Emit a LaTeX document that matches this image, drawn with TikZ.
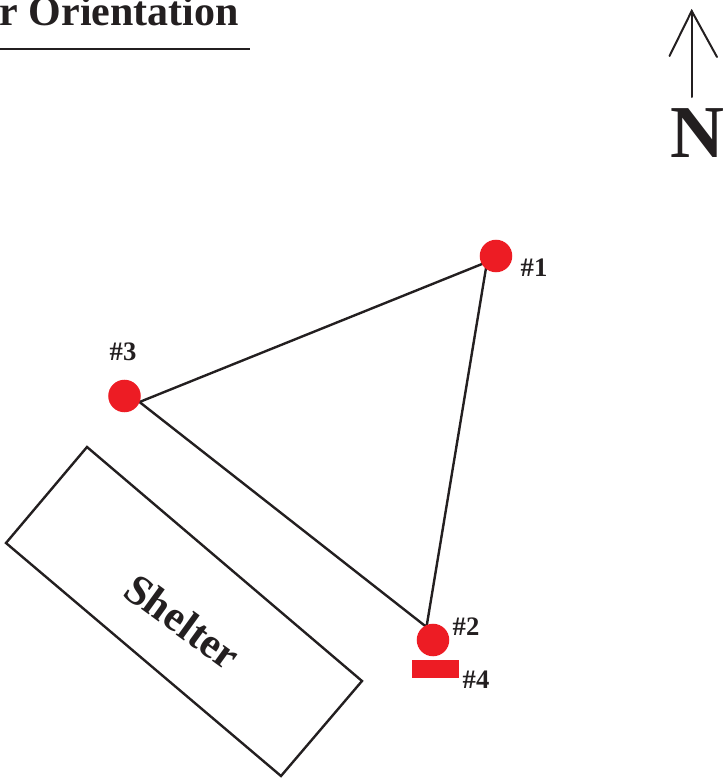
\documentclass[tikz,border=0pt]{standalone}
\usepackage{fontspec}
\setmainfont{Liberation Serif}
\definecolor{dotred}{HTML}{ED1C24}
\definecolor{ink}{HTML}{231F20}
\tikzset{
  dot/.style={circle,fill=dotred,minimum size=24.4pt,inner sep=0pt,draw=none},
  lab/.style={font=\bfseries\fontsize{20}{22}\selectfont,text=ink,inner sep=0pt},
  edge/.style={draw=ink,line width=1.8pt},
  thinedge/.style={draw=ink,line width=1.5pt,line cap=round,line join=miter}
}
\begin{document}
\begin{tikzpicture}[x=0.75pt,y=-0.75pt]
\useasboundingbox (0,0) rectangle (726,782);
\clip (0,0) rectangle (726,782);
\node[anchor=base east,font=\bfseries\fontsize{31.5}{33}\selectfont,text=ink,inner sep=0pt] (title) at (239,25) {r Orientation};
\coordinate (tl) at (0,49); \coordinate (tr) at (250,49);
\draw[edge] (tl) -- (tr);
% north
\coordinate (na) at (691.7,97); \coordinate (nb) at (691.7,11);
\coordinate (nl) at (669.5,56); \coordinate (nr) at (717,57);
\draw[thinedge] (na) -- (nb);
\draw[thinedge] (nl) -- (nb) -- (nr);
\node[font=\bfseries\fontsize{56}{56}\selectfont,text=ink,inner sep=0pt,anchor=base] (north) at (697.5,157.5) {N};
% triangle
\coordinate (a1) at (487,262);
\coordinate (a2) at (426.5,627);
\coordinate (a3) at (139.5,402);
\draw[edge,line join=miter] (a1) -- (a2) -- (a3) -- cycle;
\node[dot] (p1) at (496,256) {};
\node[dot] (p2) at (433,640) {};
\node[dot] (p3) at (124.5,396) {};
\node[lab] (l1) at (534,268) {\#1};
\node[lab] (l2) at (466,627) {\#2};
\node[lab] (l3) at (123,352) {\#3};
\node[lab] (l4) at (476,680) {\#4};
\node[fill=dotred,minimum width=35.25pt,minimum height=13.5pt,inner sep=0pt] (r4) at (435.5,669) {};
% shelter
\draw[edge] (87,447) -- (362,681) -- (281,776) -- (6,543) -- cycle;
\node[font=\bfseries\fontsize{32}{34}\selectfont,text=ink,inner sep=0pt,rotate=-36] (shelter) at (183,621.5) {Shelter};
\end{tikzpicture}
\end{document}
